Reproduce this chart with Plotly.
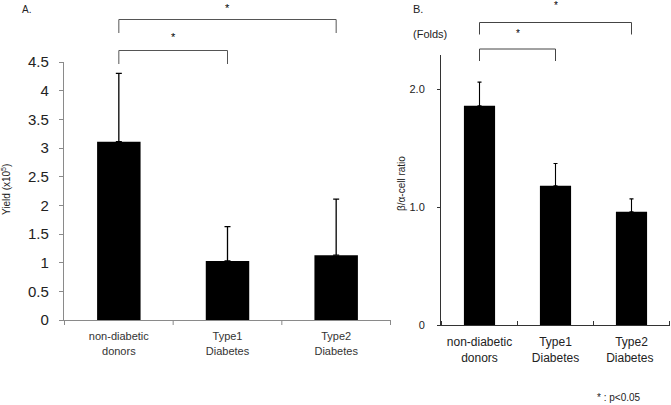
import plotly.graph_objects as go

# Panel A: yield
groups_a = ["non-diabetic<br>donors", "Type1<br>Diabetes", "Type2<br>Diabetes"]
yield_mean = [3.11, 1.03, 1.13]
yield_err = [1.19, 0.60, 0.98]
yield_ticks = [0, 0.5, 1, 1.5, 2, 2.5, 3, 3.5, 4, 4.5]

# Panel B: beta/alpha-cell ratio
groups_b = ["non-diabetic<br>donors", "Type1<br>Diabetes", "Type2<br>Diabetes "]
ratio_mean = [1.86, 1.18, 0.96]
ratio_err = [0.20, 0.19, 0.11]
ratio_ticks = [0, 1.0, 2.0]
ratio_ticklabels = ["0", "1.0", "2.0"]

FONT = "Liberation Sans, Arial, sans-serif"

fig = go.Figure()

fig.add_trace(go.Bar(
    x=groups_a, y=yield_mean, width=0.4, marker=dict(color="black", line=dict(width=0)),
    error_y=dict(type="data", symmetric=False, array=yield_err, arrayminus=[0] * 3,
                 color="black", thickness=1.3, width=3),
    xaxis="x", yaxis="y", showlegend=False, hoverinfo="skip"))

fig.add_trace(go.Bar(
    x=groups_b, y=ratio_mean, width=0.41, marker=dict(color="black", line=dict(width=0)),
    error_y=dict(type="data", symmetric=False, array=ratio_err, arrayminus=[0] * 3,
                 color="black", thickness=1.1, width=2),
    xaxis="x2", yaxis="y2", showlegend=False, hoverinfo="skip"))

fig.update_layout(
    width=671, height=405, margin=dict(l=0, r=0, t=0, b=0, autoexpand=False),
    plot_bgcolor="white", paper_bgcolor="white",
    font=dict(family=FONT, color="#222"),
    xaxis=dict(domain=[64 / 671, 391 / 671], showline=True, linecolor="#8a8a8a", linewidth=1.3,
               ticks="", showgrid=False, tickfont=dict(size=11, color="#333"),
               ticklabelstandoff=6, automargin=False),
    yaxis=dict(domain=[1 - 320 / 405, 1 - 62 / 405], range=[0, 4.5], showline=True,
               linecolor="#8a8a8a", linewidth=1.3, ticks="outside", ticklen=4, tickcolor="#8a8a8a",
               tickvals=yield_ticks, ticktext=[f"{v:g}" for v in yield_ticks],
               tickfont=dict(size=15, color="#222"), showgrid=False, zeroline=False,
               ticklabelstandoff=7, automargin=False),
    xaxis2=dict(domain=[441 / 671, 670 / 671], anchor="y2", showline=True, linecolor="#333",
                linewidth=1, ticks="", showgrid=False, tickfont=dict(size=12, color="#222"),
                ticklabelstandoff=6, automargin=False),
    yaxis2=dict(domain=[1 - 325 / 405, 1 - 55 / 405], anchor="x2", range=[0, 2.29],
                showline=True, linecolor="#333", linewidth=1, ticks="outside", ticklen=3,
                tickcolor="#333", tickvals=ratio_ticks, ticktext=ratio_ticklabels,
                tickfont=dict(size=11, color="#222"), showgrid=False, zeroline=False,
                ticklabelstandoff=10, automargin=False),
)

py = lambda px: 1 - px / 405


# category boundary ticks on the x axes (between groups)
def boundary_ticks(xref, n, color, span):
    for k in range(n + 1):
        xb = k - 0.5
        fig.add_shape(type="line", xref=xref, yref="paper", x0=xb, x1=xb,
                      y0=span[0], y1=span[1], line=dict(color=color, width=1))


boundary_ticks("x", 3, "#8a8a8a", (py(320), py(325)))
boundary_ticks("x2", 3, "#333", (py(325), py(321)))


# significance brackets
def bracket(xref, x0, x1, ytop, ybot, color):
    fig.add_shape(type="path", xref=xref, yref="paper",
                  path=f"M {x0},{ybot} L {x0},{ytop} L {x1},{ytop} L {x1},{ybot}",
                  line=dict(color=color, width=1))


def star(xref, x, y, size):
    fig.add_annotation(xref=xref, yref="paper", x=x, y=y, text="*", showarrow=False,
                       font=dict(size=size, color="black"), xanchor="center", yanchor="middle")


bracket("x", 0, 2, py(19.5), py(33), "#555")
bracket("x", 0, 1, py(50.5), py(64), "#555")
star("x", 1, py(8), 11)
star("x", 0.5, py(37), 11)

bracket("x2", 0, 2, py(22.5), py(34.5), "#444")
bracket("x2", 0, 1, py(49), py(61), "#444")
star("x2", 1, py(5), 10)
star("x2", 0.5, py(34), 10)

texts = [
    (26, 9, "A.", 10, 0),
    (418, 9, "B.", 11, 0),
    (430, 34, "(Folds)", 11, 0),
    (6, 190, "Yield (x10<sup>5</sup>)", 10, -90),
    (401, 183, "β/α-cell ratio", 10, -90),
    (619, 397, "* : p<0.05", 10, 0),
]
for x, y, t, s, ang in texts:
    fig.add_annotation(xref="paper", yref="paper", x=x / 671, y=py(y), text=t, showarrow=False,
                       textangle=ang, xanchor="center", yanchor="middle",
                       font=dict(size=s, color="#222"))

# page body has a default 8px margin; remove it so the figure sits at the window origin
fig.write_html("out.html", config={"displayModeBar": False},
               post_script="document.body.style.margin='0';")
